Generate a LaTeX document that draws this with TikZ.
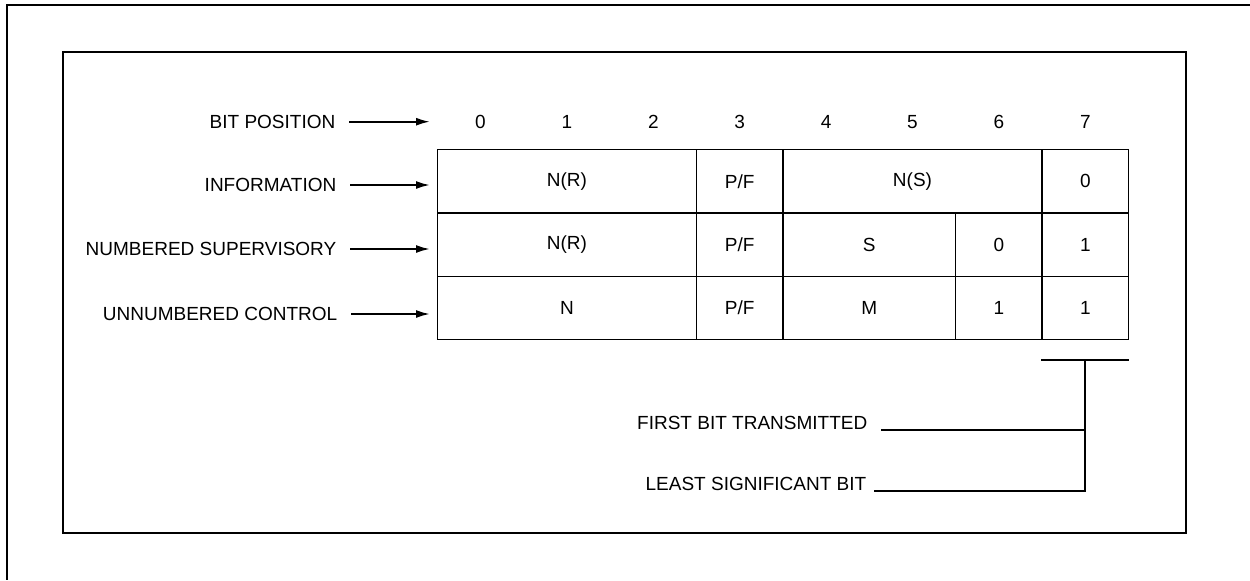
\documentclass[tikz,border=0pt]{standalone}
\usepackage{fontspec}
\setmainfont{Liberation Sans}
\usetikzlibrary{arrows.meta}
\begin{document}
\begin{tikzpicture}[x=0.5pt,y=-0.5pt,font=\fontsize{9.5}{11}\selectfont,line width=0.7pt,
  cell/.style={draw,minimum width=#1*43.2pt,minimum height=31.65pt,inner sep=0pt},
  lab/.style={inner sep=0pt},
  arr/.style={-{Latex[length=7pt,width=4pt]},line width=1pt,shorten <=6.5pt},
  brk/.style={line width=1pt}]
\useasboundingbox (0,0) rectangle (1250,580);
\draw[line width=1.1pt] (1250,4.7) -- (6.7,4.7) -- (6.7,580);
\draw (63,52) rectangle (1186,533);
\node (n0) at (480.5,121.7) {0}; \node (n1) at (566.9,121.7) {1}; \node (n2) at (653.3,121.7) {2}; \node (n3) at (739.7,121.7) {3};
\node (n4) at (826.1,121.7) {4}; \node (n5) at (912.5,121.7) {5}; \node (n6) at (998.9,121.7) {6}; \node (n7) at (1085.3,121.7) {7};
\node[lab,anchor=east] (lbit) at (336,121.7) {BIT POSITION}; \coordinate (abit) at (430,121.7);
\node[lab,anchor=east] (linf) at (337,185) {INFORMATION}; \coordinate (ainf) at (430,185);
\node[lab,anchor=east] (lsup) at (337,249) {NUMBERED SUPERVISORY}; \coordinate (asup) at (430,249);
\node[lab,anchor=east] (lunn) at (338,314) {UNNUMBERED CONTROL}; \coordinate (aunn) at (430,314);
\draw[arr] (lbit) -- (abit); \draw[arr] (linf) -- (ainf); \draw[arr] (lsup) -- (asup); \draw[arr] (lunn) -- (aunn);
\node[cell=3] (i02) at (566.9,181.3) {N(R)}; \node[cell=1] (i3) at (739.7,181.3) {P/F}; \node[cell=3] (i46) at (912.5,181.3) {N(S)}; \node[cell=1] (i7) at (1085.3,181.3) {0};
\node[cell=3] (s02) at (566.9,244.6) {N(R)}; \node[cell=1] (s3) at (739.7,244.6) {P/F}; \node[cell=2] (s45) at (869.3,244.6) {S}; \node[cell=1] (s6) at (998.9,244.6) {0}; \node[cell=1] (s7) at (1085.3,244.6) {1};
\node[cell=3] (u02) at (566.9,307.9) {N}; \node[cell=1] (u3) at (739.7,307.9) {P/F}; \node[cell=2] (u45) at (869.3,307.9) {M}; \node[cell=1] (u6) at (998.9,307.9) {1}; \node[cell=1] (u7) at (1085.3,307.9) {1};
\node[lab,anchor=south east] (first) at (868,430) {FIRST BIT TRANSMITTED};
\node[lab,anchor=south east] (lsb) at (867,491) {LEAST SIGNIFICANT BIT};
\draw[brk] ([yshift=-10pt]u7.south west) -- ([yshift=-10pt]u7.south east);
\draw[brk] ([yshift=-10pt]u7.south) |- ([xshift=3.5pt]lsb.south east);
\draw[brk] ([xshift=6.5pt]first.south east) -- (first.south east -| u7.south);
\end{tikzpicture}
\end{document}
